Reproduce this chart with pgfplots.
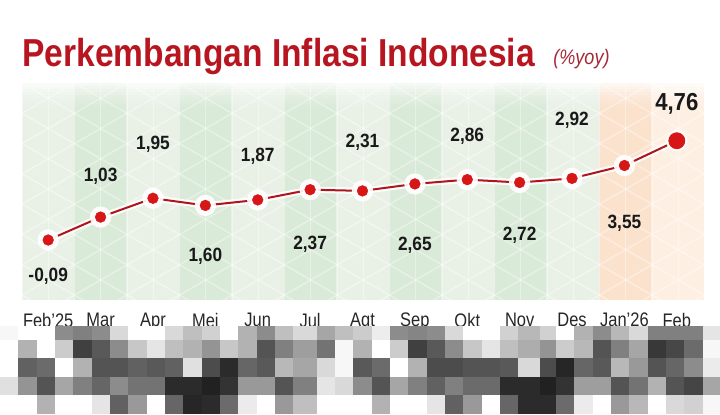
\documentclass[border=0pt]{standalone}
\usepackage{pgfplots}
\pgfplotsset{compat=1.18}
\usepackage{fontspec}
\setmainfont{Liberation Sans}
\newfontfamily\titlefam[FakeStretch=0.86]{Liberation Sans}
\newfontfamily\valfam[FakeStretch=0.9]{Liberation Sans}
\newfontfamily\tickfam[FakeStretch=0.84]{Liberation Sans}
\definecolor{titlered}{RGB}{183,22,32}
\definecolor{yoyred}{RGB}{165,40,55}
\definecolor{bgl}{RGB}{233,241,231}
\definecolor{bgd}{RGB}{218,234,216}
\definecolor{orD}{RGB}{251,226,205}
\definecolor{orL}{RGB}{254,239,227}
\definecolor{lred}{RGB}{175,22,28}
\definecolor{mred}{RGB}{215,22,22}
\definecolor{valc}{RGB}{25,25,25}
\newcommand\mc[5]{\definecolor{mcc}{gray}{#5}\fill[mcc] (#1,#3) rectangle ({#2+0.4},#4);}
\newcommand\mcol[7]{\mc{#1}{#2}{326}{340.4}{#3}\mc{#1}{#2}{340}{358.7}{#4}\mc{#1}{#2}{358.3}{377.1}{#5}\mc{#1}{#2}{376.7}{395.4}{#6}\mc{#1}{#2}{395}{414}{#7}}
\begin{document}
\begin{tikzpicture}
\path[use as bounding box] (0,0) rectangle (360pt,207pt);
% background panel in pixel units (y downwards)
\begin{scope}[x=0.5pt,y=-0.5pt,yshift=207pt]
\fill[bgl] (22,83) rectangle (704.5,300);
\foreach \c in {74.5,179.5,284.5,389.5,494.5}{\fill[bgd] (\c,83) rectangle ({\c+52.5},300);}
\fill[orD] (599.5,83) rectangle (652,300);
\fill[orL] (652,83) rectangle (704.5,300);
\begin{scope}
\clip (22,83) rectangle (704.5,300);
\begin{scope}[white, opacity=0.38, line width=0.7pt]
\foreach \k in {0,...,26}{\draw ({22+26.25*\k},83) -- ++(0,217);}
\foreach \j in {-14,...,8}{\draw (22,{83+30.3*\j}) -- ++(700,404);}
\foreach \j in {0,...,21}{\draw (22,{83+30.3*\j}) -- ++(700,-404);}
\end{scope}
\foreach \i/\o in {0/0.75,1/0.6,2/0.47,3/0.36,4/0.26,5/0.18,6/0.11,7/0.05}{
  \fill[white, opacity=\o] (22,{83+3*\i}) rectangle (704.5,{86.2+3*\i});}
\end{scope}
\end{scope}
\begin{axis}[
  at={(11pt,57pt)}, anchor=south west,
  scale only axis, width=340.5pt, height=108.5pt,
  xmin=-0.5, xmax=12.5, ymin=-3.02, ymax=7.58,
  axis line style={draw=none},
  ytick=\empty,
  xtick={0,...,12},
  xticklabels={Feb’25,Mar,Apr,Mei,Jun,Jul,Agt,Sep,Okt,Nov,Des,Jan’26,Feb},
  major tick length=0pt,
  xticklabel shift=3pt,
  xticklabel style={font=\tickfam\fontsize{9.8}{10}\selectfont, text=black!85},
  clip=false,
]
\addplot[white, opacity=0.9, line width=3.2pt, mark=*, mark size=3.7pt, mark options={fill=white, draw=white}] coordinates {
(0,-0.09) (1,1.03) (2,1.95) (3,1.60) (4,1.87) (5,2.37) (6,2.31) (7,2.65) (8,2.86) (9,2.72) (10,2.92) (11,3.55) (12,4.76)};
\addplot[white, mark=*, mark size=5pt, mark options={fill=white, draw=white}, only marks] coordinates {(12,4.76)};
\addplot[lred, line width=1pt, mark=*, mark size=2.7pt, mark options={fill=mred, draw=mred, line width=0.2pt}] coordinates {
(0,-0.09) (1,1.03) (2,1.95) (3,1.60) (4,1.87) (5,2.37) (6,2.31) (7,2.65) (8,2.86) (9,2.72) (10,2.92) (11,3.55) (12,4.76)};
\addplot[only marks, mark=*, mark size=4pt, mark options={fill=mred, draw=mred}] coordinates {(12,4.76)};
\begin{scope}[every node/.style={text=valc, font=\valfam\bfseries\fontsize{9.6}{10}\selectfont}]
\node at (axis cs:0,-1.87) {-0,09};
\node at (axis cs:1,3.00) {1,03};
\node at (axis cs:2,4.59) {1,95};
\node at (axis cs:3,-0.90) {1,60};
\node at (axis cs:4,4.02) {1,87};
\node at (axis cs:5,-0.30) {2,37};
\node at (axis cs:6,4.68) {2,31};
\node at (axis cs:7,-0.33) {2,65};
\node at (axis cs:8,4.96) {2,86};
\node at (axis cs:9,0.16) {2,72};
\node at (axis cs:10,5.77) {2,92};
\node at (axis cs:11,0.73) {3,55};
\end{scope}
\node[text=valc, font=\valfam\bfseries\fontsize{12.3}{13}\selectfont] at (axis cs:12,6.56) {4,76};
\end{axis}
\begin{scope}[x=0.5pt,y=-0.5pt,yshift=207pt]
\node[anchor=base west, inner sep=0, text=titlered, font=\titlefam\bfseries\fontsize{19.5}{20}\selectfont] at (22,66) {Perkembangan Inflasi Indonesia};
\node[anchor=base west, inner sep=0, text=yoyred, font=\titlefam\itshape\fontsize{10.5}{12}\selectfont] at (553,64) {(\%yoy)};
\mcol{0}{18.3}{0.97}{1}{1}{0.88}{1}
\mcol{18.3}{36.7}{1}{0.7}{0.38}{0.58}{1}
\mcol{36.7}{55}{1}{1}{0.42}{0.33}{0.7}
\mcol{55}{73.3}{0.55}{0.8}{1}{0.65}{1}
\mcol{73.3}{91.7}{0.5}{0.25}{0.7}{0.5}{1}
\mcol{91.7}{110}{0.55}{0.35}{0.33}{0.4}{0.9}
\mcol{110}{128.3}{0.85}{0.55}{0.33}{0.55}{0.38}
\mcol{128.3}{146.7}{1}{0.78}{0.38}{0.45}{0.6}
\mcol{146.7}{165}{1}{0.9}{0.35}{0.45}{1}
\mcol{165}{183.3}{0.85}{0.75}{0.38}{0.17}{0.4}
\mcol{183.3}{201.7}{0.75}{0.7}{0.88}{0.17}{0.15}
\mcol{201.7}{220}{0.82}{0.58}{0.3}{0.13}{0.17}
\mcol{220}{238.3}{1}{0.78}{0.17}{0.2}{0.42}
\mcol{238.3}{256.7}{0.7}{0.7}{0.4}{0.6}{0.92}
\mcol{256.7}{275}{0.55}{0.33}{0.35}{0.6}{1}
\mcol{275}{293.3}{0.75}{0.5}{0.72}{0.33}{0.6}
\mcol{293.3}{316.7}{0.85}{0.62}{0.65}{0.5}{0.75}
\mcol{316.7}{335}{0.65}{0.45}{0.85}{0.9}{1}
\mcol{335}{353.3}{0.75}{0.97}{0.97}{0.85}{1}
\mcol{353.3}{371.7}{0.8}{0.7}{0.35}{0.55}{1}
\mcol{371.7}{390}{0.93}{1}{0.42}{0.33}{0.7}
\mcol{390}{408.3}{0.55}{0.8}{1}{0.65}{1}
\mcol{408.3}{426.7}{0.52}{0.25}{0.7}{0.5}{1}
\mcol{426.7}{445}{0.55}{0.35}{0.3}{0.38}{0.9}
\mcol{445}{463.3}{0.85}{0.55}{0.3}{0.5}{0.38}
\mcol{463.3}{481.7}{1}{0.78}{0.33}{0.42}{0.6}
\mcol{481.7}{500}{1}{0.9}{0.33}{0.42}{1}
\mcol{500}{518.3}{0.82}{0.75}{0.35}{0.17}{0.4}
\mcol{518.3}{540}{0.72}{0.68}{0.85}{0.17}{0.17}
\mcol{540}{556}{0.82}{0.58}{0.3}{0.13}{0.17}
\mcol{556}{574.3}{1}{0.8}{0.15}{0.2}{0.42}
\mcol{574.3}{592.7}{0.7}{0.72}{0.4}{0.62}{0.92}
\mcol{592.7}{611}{0.55}{0.33}{0.35}{0.62}{1}
\mcol{611}{629.3}{0.72}{0.5}{0.72}{0.33}{0.6}
\mcol{629.3}{647.7}{0.85}{0.65}{0.6}{0.45}{0.72}
\mcol{647.7}{666}{0.5}{0.22}{0.33}{0.7}{1}
\mcol{666}{684.3}{0.5}{0.28}{0.4}{0.33}{0.85}
\mcol{684.3}{702.7}{0.5}{0.42}{0.55}{0.27}{0.82}
\mcol{702.7}{720}{0.9}{0.97}{0.92}{0.65}{0.97}
\end{scope}
\end{tikzpicture}
\end{document}
